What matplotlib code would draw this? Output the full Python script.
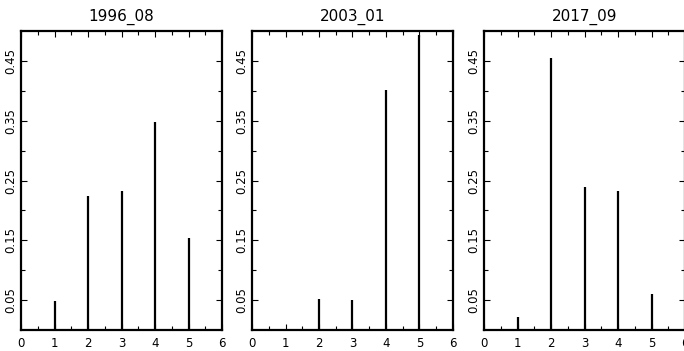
import matplotlib.pyplot as plt

titles = ['1996_08', '2003_01', '2017_09']
categories = [1, 2, 3, 4, 5]
probs_1996 = [0.049, 0.224, 0.232, 0.347, 0.154]
probs_2003 = [0.002, 0.052, 0.050, 0.402, 0.494]
probs_2017 = [0.021, 0.455, 0.239, 0.232, 0.061]
series = [probs_1996, probs_2003, probs_2017]
yticks = [0.05, 0.15, 0.25, 0.35, 0.45]
xticks = [0, 1, 2, 3, 4, 5, 6]

fig = plt.figure(figsize=(6.84, 3.51), dpi=100)
lefts = [21, 252, 484]
for left, title, vals in zip(lefts, titles, series):
    ax = fig.add_axes([left / 684, 21 / 351, 201 / 684, 299 / 351])
    ax.vlines(categories, 0, vals, color='black', linewidth=1.6)
    ax.set_xlim(0, 6)
    ax.set_ylim(0, 0.5)
    ax.set_xticks(xticks)
    ax.set_xticks([0.5, 1.5, 2.5, 3.5, 4.5, 5.5], minor=True)
    ax.set_yticks(yticks)
    ax.set_yticklabels([f'{t:.2f}' for t in yticks], rotation=90, va='center')
    ax.set_yticks([0.1, 0.2, 0.3, 0.4], minor=True)
    ax.tick_params(which='both', direction='in', top=True, right=True,
                   labelsize=8.5, width=0.8, color='black')
    ax.tick_params(which='major', length=4)
    ax.tick_params(which='minor', length=3)
    ax.tick_params(axis='x', pad=5)
    ax.tick_params(axis='y', pad=3)
    for s in ax.spines.values():
        s.set_linewidth(1.6)
    ax.set_title(title, fontsize=11, pad=7)

fig.savefig('out.png', dpi=100)
